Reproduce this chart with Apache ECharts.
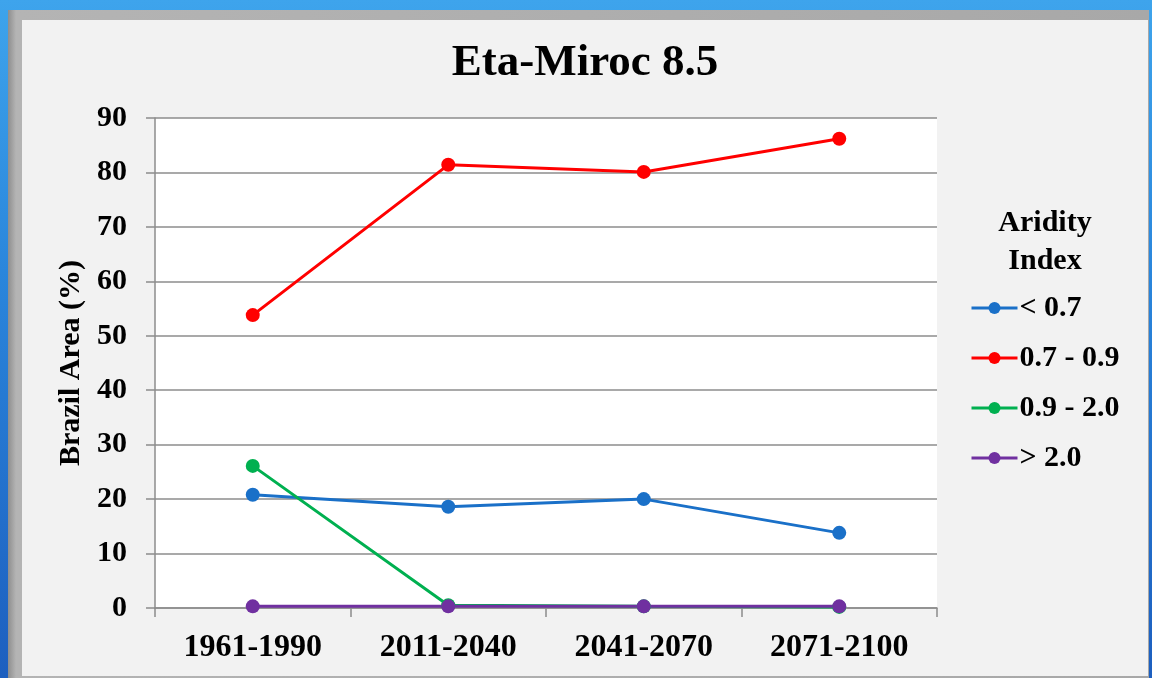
<!DOCTYPE html>
<html>
<head>
<meta charset="utf-8">
<script src="https://cdn.jsdelivr.net/npm/echarts@6/dist/echarts.min.js"></script>
<style>
    html, body { margin: 0; padding: 0; width: 1152px; height: 678px; overflow: hidden; }
    body { background: linear-gradient(to bottom, #3ea4ec 0%, #2a86dc 40%, #1d5fbf 100%); position: relative; }
    #frame { position: absolute; left: 8px; top: 10px; width: 1141px; height: 668px; background: linear-gradient(to right, #8e8e8e, #b4b4b4 8px, #a8a8a8); }
    #panel { position: absolute; left: 22px; top: 20px; width: 1126px; height: 656px; background: #f2f2f2; }
    #main { position: absolute; left: 0; top: 0; width: 1152px; height: 678px; }
</style>
</head>
<body>
<div id="frame"></div>
<div id="panel"></div>
<div id="main"></div>
<script>
var periods = ['1961-1990', '2011-2040', '2041-2070', '2071-2100'];
var below07 = [20.8, 18.6, 20.0, 13.8];
var from07to09 = [53.8, 81.4, 80.1, 86.2];
var from09to20 = [26.1, 0.5, 0.3, 0.2];
var above20 = [0.3, 0.3, 0.3, 0.3];
var seriesNames = ['< 0.7', '0.7 - 0.9', '0.9 - 2.0', '> 2.0'];
var seriesColors = ['#1a70c8', '#ff0000', '#00b050', '#7030a0'];

var serif = '"Liberation Serif", "DejaVu Serif", serif';

function lineSeries(i, data) {
    return {
        name: seriesNames[i],
        type: 'line',
        data: data,
        symbol: 'circle',
        symbolSize: 14,
        lineStyle: { width: 3, color: seriesColors[i] },
        itemStyle: { color: seriesColors[i] },
        emphasis: { disabled: true }
    };
}

var myChart = echarts.init(document.getElementById('main'));
var option = {
    backgroundColor: 'transparent',
    animation: false,
    textStyle: { fontFamily: serif },
    graphic: [{
        type: 'text',
        x: 585,
        y: 63,
        style: {
            text: 'Eta-Miroc 8.5',
            font: 'bold 45px ' + serif,
            fill: '#000',
            align: 'center',
            verticalAlign: 'middle'
        }
    }, {
        type: 'text',
        x: 1045,
        y: 242,
        style: {
            text: 'Aridity\nIndex',
            font: 'bold 30px ' + serif,
            lineHeight: 38,
            fill: '#000',
            align: 'center',
            verticalAlign: 'middle'
        }
    }],
    legend: {
        orient: 'vertical',
        left: 970,
        top: 293,
        padding: 0,
        itemWidth: 46,
        itemHeight: 15,
        itemGap: 20,
        selectedMode: false,
        data: seriesNames,
        lineStyle: { width: 3 },
        textStyle: {
            fontFamily: serif,
            fontWeight: 'bold',
            fontSize: 30,
            lineHeight: 30,
            color: '#000',
            padding: [0, 0, 0, -3]
        }
    },
    grid: {
        left: 155,
        top: 118,
        right: 215,
        bottom: 70,
        show: true,
        backgroundColor: '#ffffff',
        borderWidth: 0
    },
    xAxis: {
        type: 'category',
        data: periods,
        boundaryGap: true,
        axisLine: { lineStyle: { color: '#8c8c8c', width: 1.5 } },
        axisTick: { show: true, alignWithLabel: false, length: 9, lineStyle: { color: '#8c8c8c', width: 1.5 } },
        axisLabel: {
            margin: 24,
            fontFamily: serif,
            fontWeight: 'bold',
            fontSize: 32,
            color: '#000'
        }
    },
    yAxis: {
        type: 'value',
        min: 0,
        max: 90,
        interval: 10,
        name: 'Brazil Area (%)',
        nameLocation: 'middle',
        nameRotate: 90,
        nameGap: 69,
        nameTextStyle: {
            fontFamily: serif,
            fontWeight: 'bold',
            fontSize: 30,
            color: '#000'
        },
        axisLine: { show: true, lineStyle: { color: '#8c8c8c', width: 1.5 } },
        axisTick: { show: true, length: 9, lineStyle: { color: '#8c8c8c', width: 1.5 } },
        axisLabel: {
            margin: 28,
            fontFamily: serif,
            fontWeight: 'bold',
            fontSize: 30,
            color: '#000'
        },
        splitLine: { lineStyle: { color: '#8c8c8c', width: 1.5 } }
    },
    series: [
        lineSeries(0, below07),
        lineSeries(1, from07to09),
        lineSeries(2, from09to20),
        lineSeries(3, above20)
    ]
};
myChart.setOption(option);
</script>
</body>
</html>
